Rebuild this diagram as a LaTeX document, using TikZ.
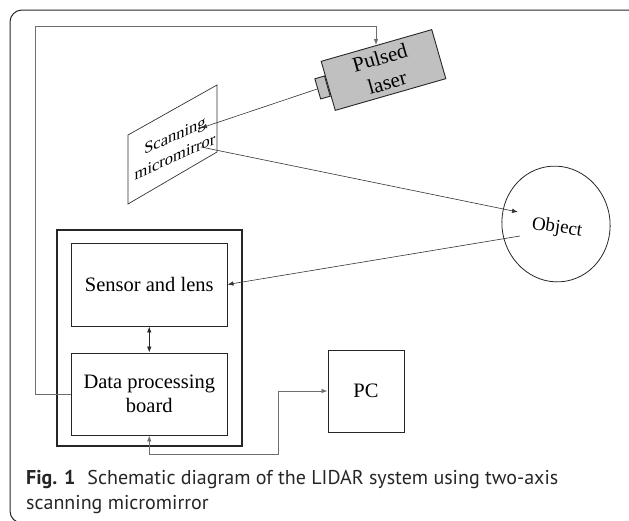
\documentclass[tikz,border=0pt]{standalone}
\usepackage{fontspec}
\setmainfont{Liberation Serif}
\newfontfamily\capfont{PT Sans}
\usetikzlibrary{arrows.meta,shapes.geometric,calc}
\definecolor{laserfill}{RGB}{192,192,192}
\definecolor{framegray}{RGB}{40,40,40}
\definecolor{wiregray}{RGB}{110,110,110}
\begin{document}
\begin{tikzpicture}[x=1pt,y=-1pt,
  box/.style={draw=black!85, line width=0.9pt, inner sep=0pt},
  beam/.style={draw=black!80, line width=0.6pt, -{Latex[length=6pt,width=4.5pt]}},
  wire/.style={draw=wiregray, line width=0.8pt},
  lbl/.style={font=\fontsize{20.5}{24}\selectfont, align=center},
  captext/.style={anchor=base west, inner sep=0pt, text=black!85, font=\capfont\fontsize{20}{24}\selectfont}]
\useasboundingbox (0,0) rectangle (629,520);

% outer figure frame (only its top and left sides fall inside the page)
\begin{scope}
  \clip (0,0) rectangle (629,520);
  \draw[framegray, line width=1pt, rounded corners=12pt] (10,10) rectangle (720,523);
\end{scope}

% receiver housing with its two boards
\node[box, line width=1.4pt, minimum width=185, minimum height=216] (housing) at (149.5,338) {};
\node[box, lbl, minimum width=155.5, minimum height=83] (sensor) at (149.25,284.5) {Sensor and lens};
\node[box, lbl, minimum width=155.5, minimum height=82] (board) at (149.25,394) {Data processing\\board};
\node[box, lbl, minimum width=76, minimum height=82] (pc) at (366,391) {PC};

% pulsed laser with its output nozzle
\node[box, fill=laserfill, minimum width=115, minimum height=51, rotate=16,
      align=center, font=\fontsize{21}{26}\selectfont] (laser) at (383.5,70) {Pulsed\\laser};
\node[box, fill=laserfill, minimum width=10, minimum height=21, rotate=16, anchor=east] (nozzle) at (laser.west) {};

% scanning micromirror drawn as a tilted plate
\coordinate (m1) at (128,135);
\coordinate (m2) at (217,85);
\coordinate (m3) at (217,152);
\coordinate (m4) at (128,204);
\draw[black!80, line width=0.7pt] (m1) -- (m2) -- (m3) -- (m4) -- cycle;
\node[yslant=0.45, align=center, font=\fontsize{16.5}{21}\selectfont] (mirrortext) at (175,146) {Scanning\\micromirror};

% target object
\node[draw=black!85, line width=0.8pt, ellipse, minimum width=108, minimum height=116, inner sep=0pt, rotate=10] (obj) at (556,224) {};
\node[rotate=-8, font=\fontsize{19}{22}\selectfont] (objtext) at (557,228) {Object};

% optical path
\coordinate (mirrorIn) at (201,128);
\coordinate (mirrorOut) at (201,147);
\coordinate (objIn) at ($(obj.center)+(-38,-12)$);
\coordinate (objOut) at ($(obj.center)+(-36,12)$);
\draw[beam] (nozzle.west) -- (mirrorIn);
\draw[beam] (mirrorOut) -- (objIn);
\draw[beam] (objOut) -- (sensor.east);
\draw[draw=black!85, line width=0.7pt, {Latex[length=6pt,width=4.5pt]}-{Latex[length=6pt,width=4.5pt]}] (sensor.south) -- (board.north);

% electrical connections
\coordinate (laserIn) at (376,45);
\draw[wire, -{Latex[length=6pt,width=4.5pt]}] (board.west) -- (35,394) -- (35,26) -| (laserIn);
\draw[wire, {Latex[length=6pt,width=4.5pt]}-{Latex[length=6pt,width=4.5pt]}] (board.south) |- (278,454) |- (pc.west);

% caption
\node[captext] (cap1) at (26,484)
  {\textbf{Fig. 1}\hspace{0.6em}Schematic diagram of the LIDAR system using two-axis};
\node[captext] (cap2) at (26,509) {scanning micromirror};
\end{tikzpicture}
\end{document}
